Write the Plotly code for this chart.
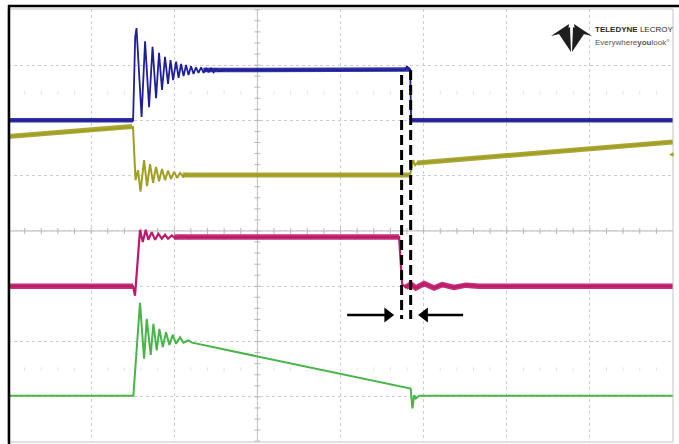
import plotly.graph_objects as go

# ---------------- data (screen divisions: time / amplitude) ----------------
blue_t = [0.0, 1.505, 1.530, 1.546, 1.607, 1.649, 1.697, 1.739, 1.781, 1.817, 1.853, 1.889, 1.925,
          1.955, 1.986, 2.022, 2.052, 2.082, 2.112, 2.142, 2.172, 2.202, 2.232, 2.262, 2.292, 2.323,
          2.353, 2.383, 2.413, 2.443, 2.473, 2.503, 2.533, 2.60, 4.777, 4.801, 4.826, 4.838, 4.850, 8.0]
blue_v = [6.00, 6.00, 7.50, 7.67, 6.06, 7.43, 6.24, 7.33, 6.40, 7.22, 6.55, 7.15, 6.66,
          7.09, 6.73, 7.06, 6.77, 7.02, 6.80, 7.00, 6.82, 6.98, 6.84, 6.96, 6.86, 6.96,
          6.86, 6.95, 6.87, 6.95, 6.87, 6.93, 6.89, 6.91, 6.91, 6.98, 6.92, 6.92, 6.00, 6.00]
blue_band_t = [0.0, 1.505, None, 2.35, 4.838, None, 4.850, 8.0]
blue_band_v = [6.00, 6.00, None, 6.91, 6.92, None, 6.00, 6.00]

olive_t = [0.0, 1.492, 1.504, 1.534, 1.564, 1.594, 1.637, 1.673, 1.709, 1.745, 1.781, 1.817, 1.853,
           1.889, 1.925, 1.961, 1.998, 2.034, 2.070, 2.106, 2.142, 2.190, 2.262, 4.838, 4.874, 4.898,
           4.922, 8.0]
olive_v = [5.71, 5.89, 5.88, 4.92, 5.10, 4.71, 5.28, 4.81, 5.21, 4.87, 5.16, 4.90, 5.12,
           4.92, 5.09, 4.94, 5.07, 4.96, 5.05, 4.98, 5.03, 5.00, 5.01, 5.01, 5.28, 5.19,
           5.23, 5.61]
olive_band_t = [0.0, 1.492, None, 2.10, 4.838, None, 4.922, 8.0]
olive_band_v = [5.71, 5.89, None, 5.01, 5.01, None, 5.23, 5.61]

mag_t = [0.0, 1.504, 1.528, 1.588, 1.621, 1.657, 1.688, 1.729, 1.769, 1.809, 1.850, 1.889, 1.925,
         1.970, 2.010, 2.070, 2.150, 4.705, 4.741, 4.786, 4.846, 4.906, 5.006, 5.126, 5.223, 5.367,
         5.508, 5.668, 8.0]
mag_v = [3.00, 3.00, 2.83, 4.02, 3.80, 4.02, 3.84, 3.98, 3.84, 3.95, 3.86, 3.93, 3.86,
         3.92, 3.87, 3.90, 3.89, 3.89, 3.04, 2.98, 3.04, 2.97, 3.05, 2.97, 3.03, 2.98,
         3.02, 3.00, 3.00]
mag_band_t = [0.0, 1.504, None, 2.00, 4.705, None, 4.786, 4.846, 4.906, 5.006, 5.126, 5.223,
              5.367, 5.508, 5.668, 8.0]
mag_band_v = [3.00, 3.00, None, 3.89, 3.89, None, 2.98, 3.04, 2.97, 3.05, 2.97, 3.03,
              2.98, 3.02, 3.00, 3.00]

green_t = [0.0, 1.508, 1.588, 1.637, 1.669, 1.717, 1.749, 1.789, 1.821, 1.862, 1.901, 1.941,
           1.982, 2.022, 2.070, 2.110, 2.170, 2.214, 4.844, 4.865, 4.886, 4.906, 4.946, 8.0]
green_v = [1.02, 1.02, 2.70, 1.69, 2.41, 1.76, 2.32, 1.84, 2.23, 1.90, 2.17, 1.94,
           2.12, 1.96, 2.08, 1.98, 2.02, 1.98, 1.15, 0.79, 1.03, 0.97, 1.02, 1.02]

cursor_t = [4.735, 4.844]
cursor_top = [6.82, 6.91]
cursor_bottom = [2.41, 2.41]
arrow_level = 2.48
arrow_tails = [4.080, 5.475]
arrow_heads = [4.657, 4.922]

# ---------------- layout constants ----------------
W, H = 679, 444
ML, MR, MT, MB = 8, 6, 9, 2
PW, PH = W - ML - MR, H - MT - MB
X_RANGE = [0, 8]
Y_RANGE = [0.184, 8.014]
PX_PER_XDIV = PW / (X_RANGE[1] - X_RANGE[0])

C_BLUE = "#1f1f9a"
C_OLIVE = "#a09f22"
C_MAG = "#bd1a69"
C_GREEN = "#48b548"


def paper(px, py):
    return (px - ML) / PW, (H - MB - py) / PH


fig = go.Figure()

# graticule tick marks on the centre lines (decoration)
tx, ty = [], []
for i in range(0, 41):
    yv = i * 0.2
    if Y_RANGE[0] < yv < Y_RANGE[1]:
        tx += [3 - 0.036, 3 + 0.036, None]
        ty += [yv, yv, None]
for i in range(1, 40):
    xv = i * 0.2
    tx += [xv, xv, None]
    ty += [4 - 0.055, 4 + 0.055, None]
fig.add_trace(go.Scatter(x=tx, y=ty, mode="lines", line=dict(color="#b8b8b8", width=1),
                         hoverinfo="skip", showlegend=False))
fx, fy = [], []
for row in (6.5, 1.5):
    for i in range(1, 40):
        xv = i * 0.2
        if abs(xv - round(xv)) > 1e-6:
            fx += [xv, xv, None]
            fy += [row - 0.035, row + 0.035, None]
fig.add_trace(go.Scatter(x=fx, y=fy, mode="lines", line=dict(color="#e4e4e4", width=1),
                         hoverinfo="skip", showlegend=False))


def add_channel(t, v, bt, bv, color, w, bw):
    fig.add_trace(go.Scatter(x=bt, y=bv, mode="lines", line=dict(color=color, width=bw),
                             opacity=0.9, hoverinfo="skip", showlegend=False))
    fig.add_trace(go.Scatter(x=t, y=v, mode="lines", line=dict(color=color, width=w),
                             hoverinfo="skip", showlegend=False))


fig.add_trace(go.Scatter(x=green_t, y=green_v, mode="lines", line=dict(color=C_GREEN, width=2),
                         hoverinfo="skip", showlegend=False))
add_channel(mag_t, mag_v, mag_band_t, mag_band_v, C_MAG, 2.2, 5.5)
add_channel(olive_t, olive_v, olive_band_t, olive_band_v, C_OLIVE, 2.0, 5.0)
add_channel(blue_t, blue_v, blue_band_t, blue_band_v, C_BLUE, 1.8, 4.5)

# measurement arrows (line + triangular head)
head_off = 7.5 / PX_PER_XDIV
for tail, head in zip(arrow_tails, arrow_heads):
    direction = 1 if head > tail else -1
    centre = head - direction * head_off
    fig.add_trace(go.Scatter(x=[tail, centre], y=[arrow_level, arrow_level], mode="lines",
                             line=dict(color="black", width=2.5), hoverinfo="skip", showlegend=False))
    fig.add_trace(go.Scatter(x=[centre], y=[arrow_level], mode="markers",
                             marker=dict(symbol="triangle-right" if direction > 0 else "triangle-left",
                                         size=13, color="black", line=dict(width=0)),
                             hoverinfo="skip", showlegend=False))

shapes = []
# solid centre lines
shapes.append(dict(type="line", xref="x", yref="paper", x0=3, x1=3, y0=0, y1=1,
                   line=dict(color="#b8b8b8", width=1), layer="below"))
shapes.append(dict(type="line", xref="paper", yref="y", x0=0, x1=1, y0=4, y1=4,
                   line=dict(color="#b8b8b8", width=1), layer="below"))
# frame
shapes.append(dict(type="rect", xref="paper", yref="paper", x0=0, x1=1, y0=0, y1=1,
                   line=dict(color="#c4c4c4", width=1)))
x0p, y0p = paper(ML, 6)
x1p, _ = paper(W, 6)
shapes.append(dict(type="line", xref="paper", yref="paper", x0=x0p, x1=x1p, y0=y0p, y1=y0p,
                   line=dict(color="black", width=2.5)))
lx, ly0 = paper(9, 5)
_, ly1 = paper(9, H)
shapes.append(dict(type="line", xref="paper", yref="paper", x0=lx, x1=lx, y0=ly0, y1=ly1,
                   line=dict(color="black", width=2.5)))
# dashed cursors
for ct, ctop, cb in zip(cursor_t, cursor_top, cursor_bottom):
    shapes.append(dict(type="line", xref="x", yref="y", x0=ct, x1=ct, y0=ctop, y1=cb,
                       line=dict(color="black", width=3, dash="10px,5px")))


# logo symbol
def poly(pts):
    s = ""
    for i, (a, b) in enumerate(pts):
        u, v = paper(a, b)
        s += ("M" if i == 0 else "L") + f"{u:.5f},{v:.5f} "
    return s + "Z"


logo_polys = [
    [(551, 36), (569, 24), (568, 32)],
    [(592, 36), (574, 24), (575, 32)],
    [(559, 34), (570, 27), (571, 52)],
    [(584, 34), (573, 27), (572, 52)],
]
for p in logo_polys:
    shapes.append(dict(type="path", xref="paper", yref="paper", path=poly(p),
                       fillcolor="#1e1e1e", line=dict(width=0)))

annotations = []
ax1, ay1 = paper(593, 30)
annotations.append(dict(x=ax1, y=ay1, xref="paper", yref="paper", xanchor="left", yanchor="middle",
                        text="<b>TELEDYNE</b> LECROY", showarrow=False,
                        font=dict(family="Liberation Sans, Arial, sans-serif", size=8, color="#2a2a2a")))
ax2, ay2 = paper(593, 42)
annotations.append(dict(x=ax2, y=ay2, xref="paper", yref="paper", xanchor="left", yanchor="middle",
                        text="Everywhere<b>you</b>look°", showarrow=False,
                        font=dict(family="Liberation Sans, Arial, sans-serif", size=8, color="#555555")))
mx, my = paper(676, 148)
annotations.append(dict(x=mx, y=my, xref="paper", yref="paper", text="◀", showarrow=False,
                        font=dict(size=6, color=C_OLIVE)))

fig.update_layout(
    width=W, height=H, margin=dict(l=ML, r=MR, t=MT, b=MB),
    paper_bgcolor="white", plot_bgcolor="white",
    xaxis=dict(range=X_RANGE, tick0=0, dtick=1, showgrid=True, gridcolor="#cdcdcd", griddash="dot",
               gridwidth=1, zeroline=False, showticklabels=False, ticks="", fixedrange=True),
    yaxis=dict(range=Y_RANGE, tick0=0, dtick=1, showgrid=True, gridcolor="#cdcdcd", griddash="dot",
               gridwidth=1, zeroline=False, showticklabels=False, ticks="", fixedrange=True),
    shapes=shapes, annotations=annotations, showlegend=False,
)

fig.write_html("out.html")
